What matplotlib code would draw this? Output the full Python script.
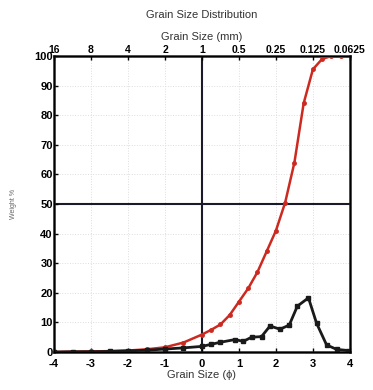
import matplotlib
matplotlib.use("Agg")
import matplotlib.pyplot as plt

plt.rcParams['font.family'] = ['Liberation Sans', 'DejaVu Sans']

# Cumulative weight % (red)
cum_phi = [-4, -3.5, -3, -2.5, -2, -1.5, -1, -0.5, 0, 0.25, 0.5, 0.75, 1, 1.25, 1.5,
           1.75, 2, 2.25, 2.5, 2.75, 3, 3.25, 3.5, 3.75]
cum_wt = [0, 0.1, 0.2, 0.3, 0.5, 0.9, 1.6, 3.2, 5.9, 7.5, 9.3, 12.5, 17, 21.5, 27,
          34, 41, 50.5, 64, 84, 95.5, 99, 100, 100]

# Frequency weight % (black)
freq_phi = [-4, -3.5, -3, -2.5, -2, -1.5, -1, -0.5, 0, 0.25, 0.5, 0.89, 1.12, 1.34,
            1.61, 1.84, 2.11, 2.36, 2.58, 2.88, 3.1, 3.37, 3.64, 3.95]
freq_wt = [0, 0.1, 0.1, 0.2, 0.4, 0.6, 1.0, 1.4, 1.9, 2.6, 3.3, 4.2, 3.6, 5.0,
           5.2, 8.8, 7.7, 9.1, 15.5, 18.3, 9.7, 2.4, 0.9, 0.5]

phi_ticks = [-4, -3, -2, -1, 0, 1, 2, 3, 4]
mm_labels = ['16', '8', '4', '2', '1', '0.5', '0.25', '0.125', '0.0625']
y_ticks = [0, 10, 20, 30, 40, 50, 60, 70, 80, 90, 100]

fig = plt.figure(figsize=(3.73, 3.90), dpi=100)
ax = fig.add_axes([0.145, 0.0974, 0.793, 0.759])

ax.set_xlim(-4, 4)
ax.set_ylim(0, 100)

for x in phi_ticks:
    ax.axvline(x, color='#dddddd', ls=':', lw=0.7, zorder=0)
for y in y_ticks:
    ax.axhline(y, color='#dddddd', ls=':', lw=0.7, zorder=0)
ax.axvline(0, color='#1a1a2a', lw=1.5, zorder=1)
ax.axhline(50, color='#1a1a2a', lw=1.5, zorder=1)

ax.plot(cum_phi, cum_wt, color='#cc2a20', lw=1.8, marker='o', ms=2.5, zorder=3)
ax.plot(freq_phi, freq_wt, color='#1a1a1a', lw=2.0, marker='s', ms=2.5, zorder=3)

ax.set_xticks(phi_ticks)
ax.set_xticklabels([str(t) for t in phi_ticks])
ax.set_yticks(y_ticks)
ax.tick_params(direction='in', length=3, width=1, labelsize=8)
ax.tick_params(axis='x', pad=5)
ax.tick_params(axis='y', pad=1)
for s in ax.spines.values():
    s.set_linewidth(1.8)
    s.set_color('#1a1a2a')
for lbl in ax.get_xticklabels() + ax.get_yticklabels():
    lbl.set_fontweight('bold')

ax.set_xlabel('Grain Size (ϕ)', fontsize=8, labelpad=1, color='#333333')
ax.set_ylabel('Weight %', fontsize=5, color='#666666', labelpad=12)

top = ax.twiny()
top.set_xlim(-4, 4)
top.set_xticks(phi_ticks)
top.set_xticklabels(mm_labels)
top.tick_params(direction='in', length=3, width=1, labelsize=7.5, pad=1)
for lbl in top.get_xticklabels():
    lbl.set_fontweight('bold')
top.set_xlabel('Grain Size (mm)', fontsize=8, labelpad=3, color='#333333')
fig.text(0.54, 0.962, 'Grain Size Distribution', ha='center', va='center',
         fontsize=8, color='#333333')

fig.savefig('out.png', dpi=100)
